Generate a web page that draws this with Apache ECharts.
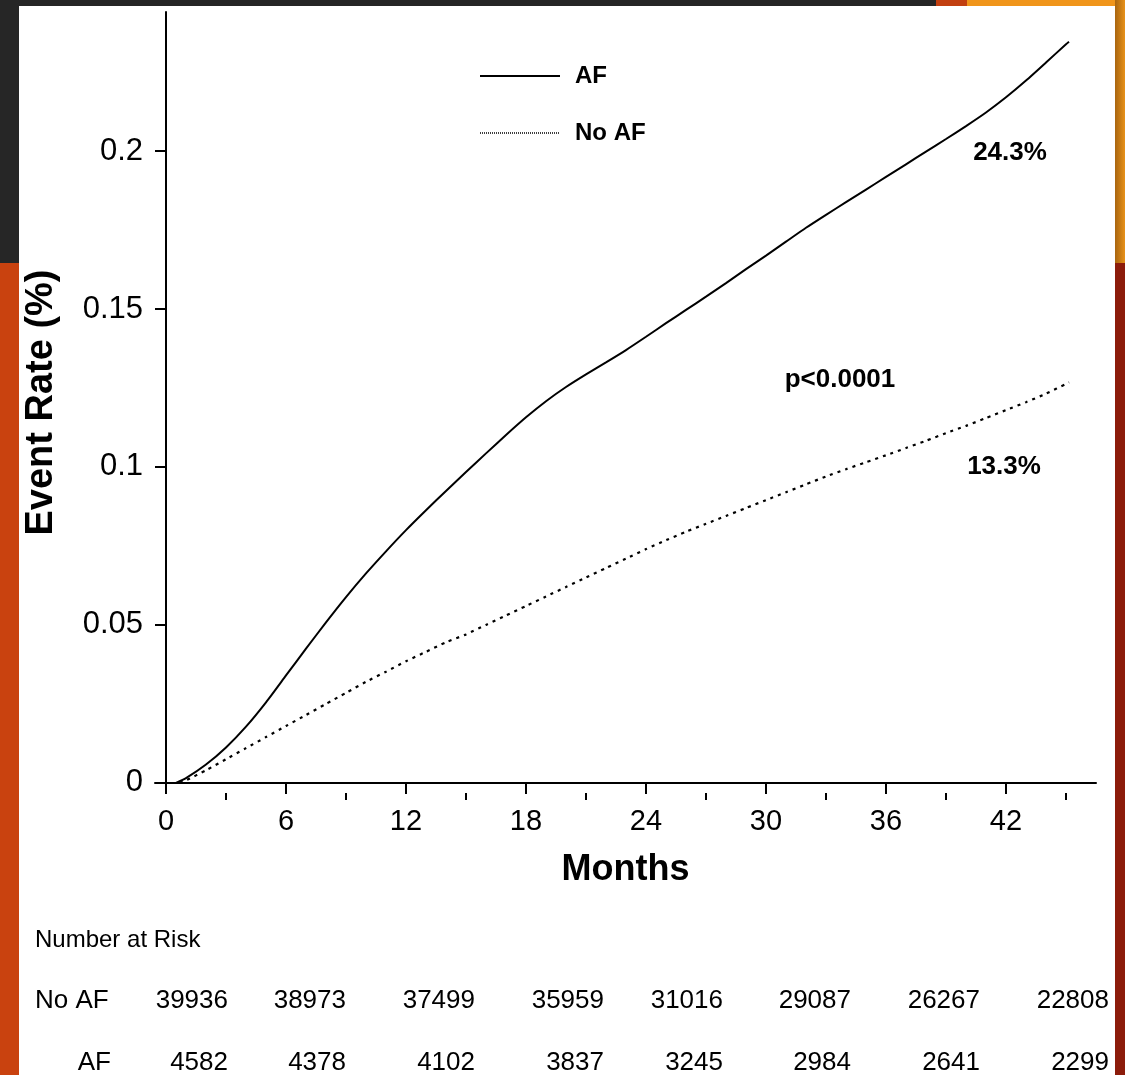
<!DOCTYPE html>
<html>
<head>
<meta charset="utf-8">
<script src="https://cdn.jsdelivr.net/npm/echarts@6/dist/echarts.min.js"></script>
<style>
  html, body { margin: 0; padding: 0; background: #262626; }
  #stage { position: relative; width: 1125px; height: 1075px; overflow: hidden; background: #262626; }
  .bg { position: absolute; }
  #chart { position: absolute; left: 0; top: 0; width: 1125px; height: 1075px; }
</style>
</head>
<body>
<div id="stage">
  <div class="bg" style="left:936px;top:0;width:31px;height:6px;background:#c23f10;"></div>
  <div class="bg" style="left:967px;top:0;width:158px;height:6px;background:#f0951a;"></div>
  <div class="bg" style="left:1115px;top:0;width:10px;height:263px;background:linear-gradient(90deg,#a8650f,#e8921a);"></div>
  <div class="bg" style="left:1115px;top:263px;width:10px;height:812px;background:#8c1c0b;"></div>
  <div class="bg" style="left:0;top:263px;width:19px;height:812px;background:#c9420f;"></div>
  <div class="bg" style="left:19px;top:6px;width:1096px;height:1069px;background:#ffffff;"></div>
  <div id="chart"></div>
</div>
<script>
// ---- data ----
const afMonths   = [0.5, 1, 2, 3, 4, 5, 6, 7, 8, 9, 10, 11, 12, 13, 14, 15, 16, 17, 18, 19, 20, 21, 22, 23, 24, 25, 26, 27, 28, 29, 30, 31, 32, 33, 34, 35, 36, 37, 38, 39, 40, 41, 42, 43, 44, 45, 45.15];
const afRate     = [0, 0.0015, 0.0058, 0.0112, 0.0178, 0.0255, 0.034, 0.0425, 0.0508, 0.0588, 0.0663, 0.0733, 0.0800, 0.0863, 0.0924, 0.0984, 0.1043, 0.1101, 0.1157, 0.1208, 0.1253, 0.1293, 0.1331, 0.1370, 0.1412, 0.1455, 0.1497, 0.1539, 0.1582, 0.1626, 0.1669, 0.1713, 0.1757, 0.1798, 0.1838, 0.1878, 0.1918, 0.1958, 0.1998, 0.2038, 0.2079, 0.2122, 0.2170, 0.2223, 0.2280, 0.2338, 0.2346];
const noAfMonths = [0.7, 1, 2, 3, 4, 5, 6, 7, 8, 9, 10, 11, 12, 13, 14, 15, 16, 17, 18, 19, 20, 21, 22, 23, 24, 25, 26, 27, 28, 29, 30, 31, 32, 33, 34, 35, 36, 37, 38, 39, 40, 41, 42, 43, 44, 45, 45.15];
const noAfRate   = [0, 0.0008, 0.004, 0.0075, 0.011, 0.0145, 0.018, 0.0215, 0.025, 0.0285, 0.032, 0.0352, 0.0385, 0.0415, 0.0445, 0.047, 0.050, 0.053, 0.056, 0.059, 0.062, 0.065, 0.068, 0.071, 0.074, 0.0768, 0.0795, 0.082, 0.0845, 0.087, 0.0895, 0.092, 0.0945, 0.097, 0.0993, 0.1015, 0.1037, 0.106, 0.1083, 0.1107, 0.113, 0.1155, 0.118, 0.1205, 0.1232, 0.1263, 0.1268];
const seriesNames = ['AF', 'No AF'];
const xTickLabels = [0, 6, 12, 18, 24, 30, 36, 42];
const xMinorTicks = [3, 9, 15, 21, 27, 33, 39, 45];
const yTickLabels = [0, 0.05, 0.1, 0.15, 0.2];
const annotTexts = ['24.3%', 'p<0.0001', '13.3%'];
const annotMonth = [42.2, 33.7, 41.9];
const annotRate  = [0.1994, 0.1275, 0.1000];
const riskTitle = 'Number at Risk';
const riskRowNames = ['No AF', 'AF'];
const riskNoAF = [39936, 38973, 37499, 35959, 31016, 29087, 26267, 22808];
const riskAF   = [4582, 4378, 4102, 3837, 3245, 2984, 2641, 2299];

// ---- layout (pixels, not data) ----
const FONT = '"Liberation Sans", Arial, Helvetica, sans-serif';
const riskColRight = [228, 346, 475, 604, 723, 851, 980, 1109];
const riskRowY = [1001, 1063];

const zip = (xs, ys) => xs.map((x, i) => [x, ys[i]]);

const graphics = [];
const txt = (text, x, y, size, align) => ({ type: 'text', silent: true, style: { text, x, y, font: size + 'px ' + FONT, fill: '#000', textAlign: align, textVerticalAlign: 'middle', align: align, verticalAlign: 'middle' } });
graphics.push(txt(riskTitle, 35, 940, 24, 'left'));
graphics.push(txt(riskRowNames[0], 35, riskRowY[0], 26, 'left'));
graphics.push(txt(riskRowNames[1], 111, riskRowY[1], 26, 'right'));
[riskNoAF, riskAF].forEach((row, r) => {
  row.forEach((v, i) => graphics.push(txt(String(v), riskColRight[i], riskRowY[r], 26, 'right')));
});

const chart = echarts.init(document.getElementById('chart'), null, { renderer: 'canvas' });
chart.setOption({
  backgroundColor: 'transparent',
  animation: false,
  grid: { left: 155, right: 29, top: 12, bottom: 282, containLabel: false, outerBoundsMode: 'none' },
  xAxis: [{
    type: 'value', min: -0.55, max: 46.5,
    name: 'Months', nameLocation: 'middle', nameGap: 59, nameMoveOverlap: false,
    nameTextStyle: { fontFamily: FONT, fontSize: 36, fontWeight: 'bold', color: '#000' },
    axisLine: { show: true, onZero: true, lineStyle: { color: '#000', width: 2 } },
    axisTick: { show: true, length: 11, lineStyle: { color: '#000', width: 2 }, customValues: xTickLabels },
    axisLabel: { show: true, customValues: xTickLabels, margin: 14, fontFamily: FONT, fontSize: 29, color: '#000', formatter: v => String(v) },
    splitLine: { show: false }
  }, {
    type: 'value', min: -0.55, max: 46.5, position: 'bottom',
    axisLine: { show: false, onZero: true },
    axisTick: { show: true, length: 7, lineStyle: { color: '#000', width: 2 }, customValues: xMinorTicks },
    axisLabel: { show: false },
    splitLine: { show: false }
  }],
  yAxis: {
    type: 'value', min: -0.0032, max: 0.244,
    name: 'Event Rate (%)', nameLocation: 'middle', nameGap: 94, nameRotate: 90, nameMoveOverlap: false,
    nameTextStyle: { fontFamily: FONT, fontSize: 38, fontWeight: 'bold', color: '#000' },
    axisLine: { show: true, onZero: true, lineStyle: { color: '#000', width: 2 } },
    axisTick: { show: true, length: 11, lineStyle: { color: '#000', width: 2 }, customValues: yTickLabels },
    axisLabel: { show: true, customValues: yTickLabels, margin: 12, fontFamily: FONT, fontSize: 31, color: '#000', formatter: v => String(v) },
    splitLine: { show: false }
  },
  legend: {
    data: [
      { name: seriesNames[0], lineStyle: { type: 'solid', width: 2, color: '#000' }, itemStyle: { color: 'rgba(0,0,0,0)', borderWidth: 0, opacity: 0 } },
      { name: seriesNames[1], lineStyle: { type: [1, 1], width: 1.6, color: '#000' }, itemStyle: { color: 'rgba(0,0,0,0)', borderWidth: 0, opacity: 0 } }
    ],
    orient: 'vertical', left: 479, top: 64, padding: 0,
    itemWidth: 80, itemHeight: 14, itemGap: 33,
    textStyle: { fontFamily: FONT, fontSize: 24, fontWeight: 'bold', color: '#000', padding: [0, 0, 0, 10] },
    selectedMode: false
  },
  series: [{
    name: seriesNames[0], type: 'line', data: zip(afMonths, afRate),
    showSymbol: false, symbol: 'none', smooth: 0.2,
    lineStyle: { color: '#000', width: 2, type: 'solid' }, itemStyle: { color: '#000' }
  }, {
    name: seriesNames[1], type: 'line', data: zip(noAfMonths, noAfRate),
    showSymbol: false, symbol: 'none', smooth: 0.2,
    lineStyle: { color: '#000', width: 2.2, type: [3, 5] }, itemStyle: { color: '#000' }
  }, {
    name: 'annotations', type: 'scatter', silent: true,
    symbolSize: 1, itemStyle: { color: 'rgba(0,0,0,0)', opacity: 1 },
    data: annotTexts.map((t, i) => ({ name: t, value: [annotMonth[i], annotRate[i]] })),
    label: { show: true, position: 'inside', formatter: '{b}', fontFamily: FONT, fontSize: 26, fontWeight: 'bold', color: '#000', opacity: 1 }
  }],
  graphic: graphics
});
</script>
</body>
</html>
